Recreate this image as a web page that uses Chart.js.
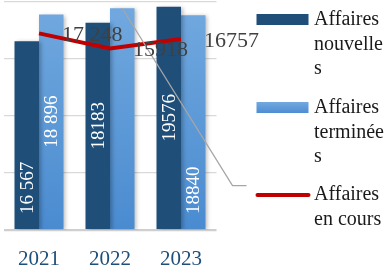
<!DOCTYPE html>
<html>
<head>
<meta charset="utf-8">
<script src="https://cdn.jsdelivr.net/npm/chart.js@4"></script>
<style>
html,body{margin:0;padding:0;background:#fff;}
#wrap{width:392px;height:273px;position:relative;}
</style>
</head>
<body>
<div id="wrap"><canvas id="c" width="392" height="273"></canvas></div>
<script>
const categories = ['2021', '2022', '2023'];
const nouvelles = [16567, 18183, 19576];
const terminees = [18896, 19450, 18840];
const enCours = [17248, 15918, 16757];
const labelsNouvelles = ['16 567', '18183', '19576'];
const labelsTerminees = ['18 896', '', '18840'];
const labelsEnCours = ['17 248', '15918', '16757'];
const seriesNames = [['Affaires', 'nouvelle', 's'], ['Affaires', 'terminée', 's'], ['Affaires', 'en cours']];
const yTicks = [0, 5000, 10000, 15000, 20000];
// where each bar label sits: 'base' or 'center'
const anchorNouvelles = ['base', 'center', 'center'];
const anchorTerminees = ['center', 'center', 'base'];

const SERIF = '"Liberation Serif", "DejaVu Serif", serif';

function lightGrad(ctx) {
  const ch = ctx.chart; const a = ch.chartArea;
  if (!a) return '#5b9bd5';
  const g = ch.ctx.createLinearGradient(0, a.top, 0, a.bottom);
  g.addColorStop(0, '#72a9df');
  g.addColorStop(1, '#4a8bd0');
  return g;
}

const shadowPlugin = {
  id: 'shadow',
  beforeDatasetDraw(chart, args) {
    if (chart.data.datasets[args.index].type === 'bar') {
      const c = chart.ctx; c.save();
      c.shadowColor = 'rgba(0,0,0,0.28)'; c.shadowBlur = 4; c.shadowOffsetX = 2; c.shadowOffsetY = 1;
    }
  },
  afterDatasetDraw(chart, args) {
    if (chart.data.datasets[args.index].type === 'bar') chart.ctx.restore();
  }
};

const labelPlugin = {
  id: 'labels',
  afterDatasetsDraw(chart) {
    const c = chart.ctx;
    const a = chart.chartArea;
    // leader line from 2022 terminated bar top
    const tMeta = chart.getDatasetMeta(1);
    const b = tMeta.data[1];
    c.save();
    c.strokeStyle = '#a6a6a6'; c.lineWidth = 1.3;
    c.beginPath();
    c.moveTo(b.x, b.y);
    c.lineTo(a.right + 16, a.top + a.height * 0.805);
    c.lineTo(a.right + 30, a.top + a.height * 0.805);
    c.stroke();
    c.restore();

    const barSets = [[0, labelsNouvelles, anchorNouvelles], [1, labelsTerminees, anchorTerminees]];
    barSets.forEach(([di, texts, anchors]) => {
      const meta = chart.getDatasetMeta(di);
      meta.data.forEach((el, i) => {
        const t = texts[i]; if (!t) return;
        c.save();
        c.font = '19px ' + SERIF;
        c.fillStyle = '#ffffff';
        c.textBaseline = 'middle';
        let px, align;
        if (anchors[i] === 'base') { px = el.base - 15; align = 'left'; }
        else { px = (el.y + el.base) / 2; align = 'center'; }
        c.translate(el.x, px);
        c.rotate(-Math.PI / 2);
        c.textAlign = align;
        c.fillText(t, 0, 1);
        c.restore();
      });
    });
  },
  afterDraw(chart) {
    const c = chart.ctx;
    const lMeta = chart.getDatasetMeta(2);
    lMeta.data.forEach((el, i) => {
      c.save();
      c.font = '22px ' + SERIF;
      c.fillStyle = '#404040';
      c.textAlign = 'left'; c.textBaseline = 'middle';
      c.fillText(labelsEnCours[i], el.x + 23, el.y + 2);
      c.restore();
    });
    // legend
    const a = chart.chartArea;
    const lx = a.right + 40, tx = a.right + 97.5;
    const tops = [20, 108, 195];
    chart.data.datasets.forEach((ds, i) => {
      const y = tops[i];
      c.save();
      if (ds.type === 'bar') {
        if (i === 1) {
          const g = c.createLinearGradient(0, y - 6, 0, y + 6);
          g.addColorStop(0, '#72a9df'); g.addColorStop(1, '#4a8bd0');
          c.fillStyle = g;
        } else c.fillStyle = ds.legendColor;
        c.fillRect(lx, y - 6, 52, 11);
      } else {
        c.strokeStyle = ds.borderColor; c.lineWidth = 4; c.lineCap = 'round';
        c.beginPath(); c.moveTo(lx + 1, y); c.lineTo(lx + 52, y); c.stroke();
      }
      c.font = '20px ' + SERIF;
      c.fillStyle = '#1a1a1a';
      c.textAlign = 'left'; c.textBaseline = 'middle';
      seriesNames[i].forEach((ln, k) => c.fillText(ln, tx, y + k * 24.5));
      c.restore();
    });
  }
};

new Chart(document.getElementById('c'), {
  data: {
    labels: categories,
    datasets: [
      { type: 'bar', label: 'Affaires nouvelles', data: nouvelles, backgroundColor: '#1f4e79', legendColor: '#1f4e79', order: 1, categoryPercentage: 0.69, barPercentage: 1.0 },
      { type: 'bar', label: 'Affaires terminées', data: terminees, backgroundColor: lightGrad, order: 2, categoryPercentage: 0.69, barPercentage: 1.0 },
      { type: 'line', label: 'Affaires en cours', data: enCours, borderColor: '#c00000', borderWidth: 4, pointRadius: 0, tension: 0, order: 0 }
    ]
  },
  options: {
    responsive: false,
    animation: false,
    events: [],
    layout: { padding: { left: 3.5, right: 175.5, top: 2, bottom: 0 } },
    plugins: { legend: { display: false }, tooltip: { enabled: false } },
    scales: {
      x: {
        grid: { display: false, drawTicks: false },
        border: { display: false },
        ticks: { color: '#1f4e79', font: { family: SERIF, size: 21 }, padding: 17 },
        afterFit(s) { s.height = 43; }
      },
      y: {
        min: 0, max: 20000,
        afterBuildTicks(s) { s.ticks = yTicks.map(v => ({ value: v })); },
        grid: {
          color: (ctx) => ctx.tick && ctx.tick.value === 0 ? '#cfcfcf' : '#d9d9d9',
          lineWidth: (ctx) => ctx.tick && ctx.tick.value === 0 ? 2.2 : 1.2,
          drawTicks: false
        },
        border: { display: false },
        ticks: { display: false }
      }
    }
  },
  plugins: [shadowPlugin, labelPlugin]
});
</script>
</body>
</html>
